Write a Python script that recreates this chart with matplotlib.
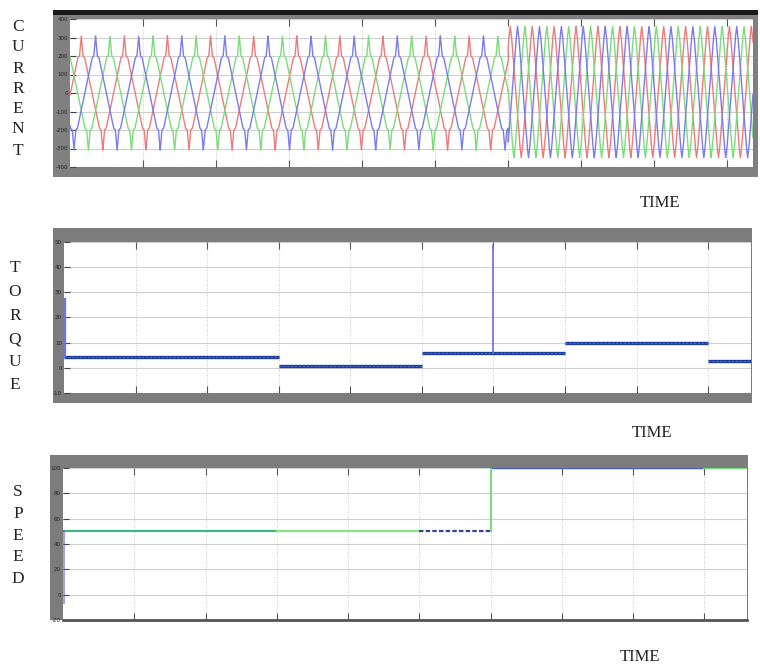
import numpy as np
import matplotlib.pyplot as plt
from matplotlib.patches import Rectangle

W, H = 760, 668

# ---- current panel (three phase) ----
cur_t_switch = 6.0
cur_t_end = 9.35
cur_period_low = 0.59
cur_period_high = 0.30
# one period of the low speed waveform (phase fraction, amps)
low_phase = [0.0, 0.04, 0.08, 0.42, 0.46, 0.50, 0.54, 0.58, 0.92, 0.96, 1.0]
low_amps = [310, 200, 190, -190, -200, -310, -200, -190, 190, 200, 310]
# one period of the high speed waveform
high_phase = [0.0, 0.06, 0.44, 0.50, 0.56, 0.94, 1.0]
high_amps = [360, 300, -290, -350, -290, 300, 360]
# first peak time of each phase
phase_names = ['red', 'green', 'blue']
phase_peak = [0.744, 0.547, 0.35]
phase_colors = ['#ee7b7b', '#7bdc7b', '#7b7bee']
cur_ticks = [400, 300, 200, 100, 0, -100, -200, -300, -400]

# ---- torque panel ----
torque_edges = [0, 3, 5, 7, 9, 9.6]
torque_levels = [4.2, 0.6, 5.8, 9.8, 2.9]
torque_start = 27.5
torque_spike_t = 6.0
torque_spike = 48.7
torque_ticks = [50, 40, 30, 20, 10, 0, -10]

# ---- speed panel ----
speed_edges = [0, 3, 5, 6, 9, 9.6]
speed_levels = [50, 50, 50, 100, 100]
speed_colors = ['#3cb48c', '#86e686', '#34449a', '#4a5ad0', '#6ee07e']
speed_start = -6.6
speed_ticks = [100, 80, 60, 40, 20, 0, -20]

time_ticks = [1, 2, 3, 4, 5, 6, 7, 8, 9]


def fbox(x0, y0, x1, y1):
    return [x0 / W, 1 - y1 / H, (x1 - x0) / W, (y1 - y0) / H]


def rect(fig, x0, y0, x1, y1, color):
    fig.patches.append(Rectangle((x0 / W, 1 - y1 / H), (x1 - x0) / W,
                                 (y1 - y0) / H, transform=fig.transFigure,
                                 facecolor=color, edgecolor='none', zorder=-5))


def style(ax, xmax, ylim, yticks):
    ax.set_zorder(5)
    ax.set_facecolor('white')
    ax.set_xlim(0, xmax)
    ax.set_ylim(*ylim)
    ax.set_xticks(time_ticks)
    ax.set_xticklabels([])
    ax.set_yticks(yticks)
    ax.set_yticklabels([str(v) for v in yticks], fontsize=4, color='#222222')
    ax.tick_params(axis='x', direction='in', length=5, color='#555555',
                   top=True, bottom=True, width=0.8)
    ax.tick_params(axis='y', direction='in', length=4, color='#444444', pad=1.5)
    for v in yticks:
        ax.axhline(v, color='#cfcfcf', lw=0.8, zorder=0)
    for v in time_ticks:
        ax.axvline(v, color='#b8b8b8', lw=0.6, ls=(0, (1, 2)), zorder=0)
    for s in ax.spines.values():
        s.set_visible(False)


def letters(fig, word, x, ys):
    for ch, y in zip(word, ys):
        fig.text(x / W, 1 - y / H, ch, ha='center', va='center',
                 family='Liberation Serif', fontsize=12.5, color='#222222')


fig = plt.figure(figsize=(W / 100, H / 100), dpi=100)
fig.patch.set_facecolor('white')

# frames
rect(fig, 53, 10, 758, 177, '#808080')
rect(fig, 53, 10, 758, 15, '#1a1a1a')
rect(fig, 53, 228, 752, 403, '#7c7c7c')
rect(fig, 50, 455, 748, 620, '#7c7c7c')

# current
ax1 = fig.add_axes(fbox(70, 19, 753, 167))
t_low = np.linspace(0, cur_t_switch, 4000)
t_high = np.linspace(cur_t_switch, cur_t_end, 4000)
for peak, col in zip(phase_peak, phase_colors):
    ph_low = ((t_low - peak) / cur_period_low) % 1.0
    y_low = np.interp(ph_low, low_phase, low_amps)
    ph_end = ((cur_t_switch - peak) / cur_period_low) % 1.0
    ph_high = (ph_end + (t_high - cur_t_switch) / cur_period_high) % 1.0
    y_high = np.interp(ph_high, high_phase, high_amps)
    ax1.plot(np.r_[t_low, t_high], np.r_[y_low, y_high], color=col, lw=1.0)
style(ax1, cur_t_end, (-400, 400), cur_ticks)

# torque
ax2 = fig.add_axes(fbox(64, 242, 751, 393))
ax2.hlines(torque_levels, torque_edges[:-1], torque_edges[1:],
           color='#1c3c9c', lw=2.4, zorder=3)
ax2.hlines(torque_levels, torque_edges[:-1], torque_edges[1:],
           color='#4a6ad0', lw=0.8, linestyles=[(0, (2, 1.5))], zorder=4)
ax2.plot([0.02, 0.02], [torque_start, torque_levels[0]], color='#7070f0', lw=1.6, zorder=3)
ax2.plot([torque_spike_t, torque_spike_t], [torque_levels[2], torque_spike],
         color='#6a6af0', lw=1.2, zorder=3)
style(ax2, 9.6, (-10, 50), torque_ticks)

# speed
ax3 = fig.add_axes(fbox(63, 468, 747, 620))
for i, lev in enumerate(speed_levels):
    ls = (0, (2, 1)) if i == 2 else '-'
    lw = 1.0 if i == 3 else 1.6
    ax3.plot([speed_edges[i], speed_edges[i + 1]], [lev, lev],
             color=speed_colors[i], lw=lw, ls=ls, zorder=4)
ax3.plot([speed_edges[3], speed_edges[3]], [speed_levels[2], speed_levels[3]],
         color='#6ee07e', lw=1.4, zorder=4)
ax3.plot([0.02, 0.02], [speed_start, speed_levels[0]],
         color='#5a60d8', lw=1.4, alpha=0.6, zorder=4)
style(ax3, 9.6, (-20, 100), speed_ticks)
ax3.spines['bottom'].set_visible(True)
ax3.spines['bottom'].set_color('#555555')
ax3.spines['bottom'].set_linewidth(2)

letters(fig, 'CURRENT', 18, [27, 47, 69, 89, 109, 129, 151])
letters(fig, 'TORQUE', 15, [268, 292, 316, 339, 362, 385])
letters(fig, 'SPEED', 18, [492, 514, 536, 557, 579])

for x, y in [(660, 203), (652, 433), (640, 657)]:
    fig.text(x / W, 1 - y / H, 'TIME', ha='center', va='center',
             family='Liberation Serif', fontsize=12, color='#222222')

fig.savefig('out.png', dpi=100)
